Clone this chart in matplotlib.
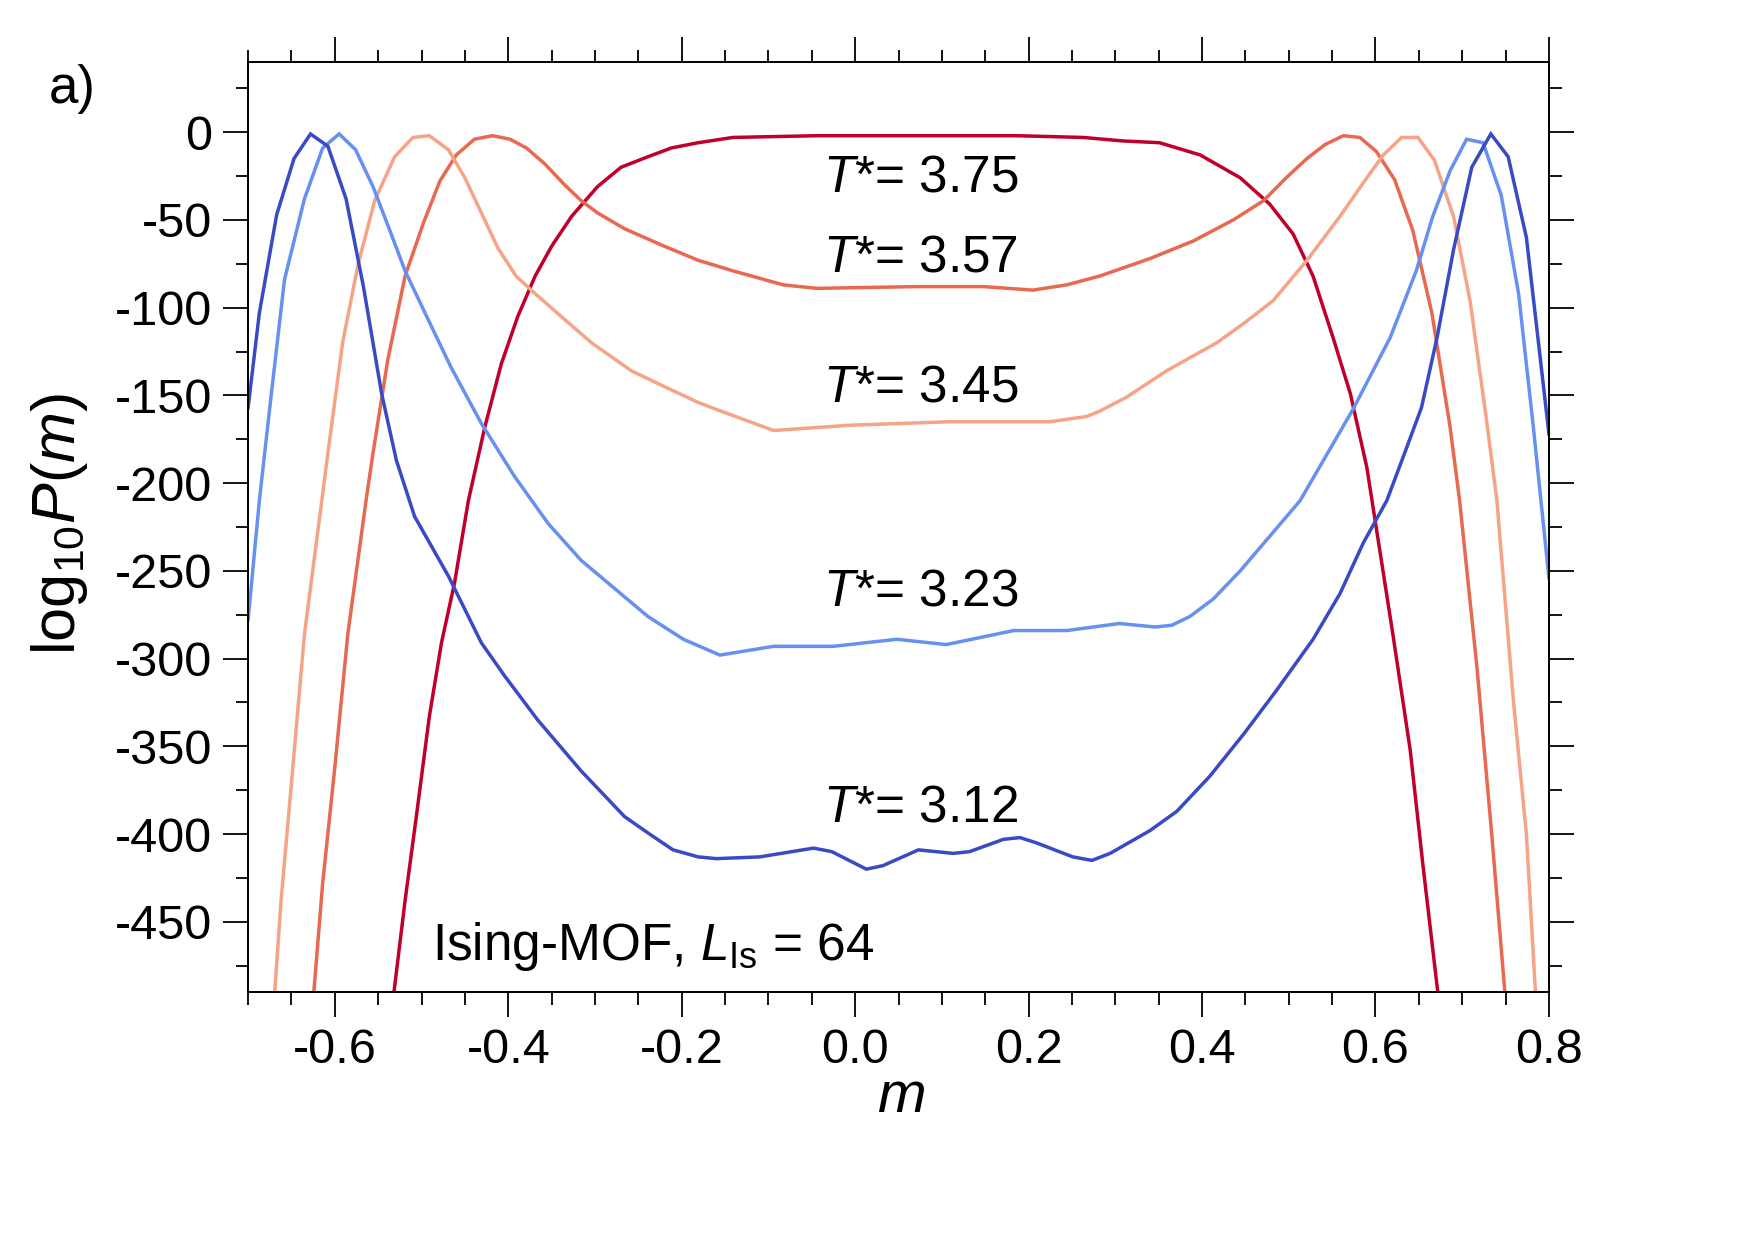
import matplotlib
matplotlib.use("Agg")
import matplotlib.pyplot as plt
from matplotlib.ticker import MultipleLocator, FuncFormatter

# log10 P(m), one curve per temperature
m_312 = [-0.700, -0.687, -0.667, -0.647, -0.628, -0.608, -0.587, -0.567, -0.546, -0.529,
         -0.508, -0.469, -0.431, -0.404, -0.366, -0.316, -0.266, -0.237, -0.210, -0.181,
         -0.160, -0.110, -0.048, -0.027, 0.013, 0.032, 0.073, 0.113, 0.132, 0.171,
         0.190, 0.209, 0.251, 0.273, 0.294, 0.340, 0.371, 0.409, 0.448, 0.486,
         0.528, 0.559, 0.586, 0.613, 0.632, 0.653, 0.671, 0.690, 0.711, 0.733,
         0.753, 0.774, 0.800]
lp_312 = [-157, -103, -47, -15, -1, -8, -38, -88, -149, -187,
          -219, -253, -291, -310, -335, -364, -390, -400, -409, -413,
          -414, -413, -408, -410, -420, -418, -409, -411, -410, -403,
          -402, -405, -413, -415, -411, -398, -387, -367, -343, -318,
          -289, -263, -234, -210, -185, -157, -117, -67, -20, -1,
          -14, -60, -172]

m_323 = [-0.700, -0.687, -0.675, -0.658, -0.635, -0.614, -0.595, -0.576, -0.556, -0.535,
         -0.519, -0.496, -0.466, -0.431, -0.393, -0.354, -0.316, -0.239, -0.198, -0.156,
         -0.094, -0.025, 0.048, 0.105, 0.183, 0.244, 0.305, 0.346, 0.365, 0.386,
         0.413, 0.444, 0.482, 0.513, 0.574, 0.617, 0.647, 0.666, 0.686, 0.705,
         0.724, 0.745, 0.765, 0.782, 0.800]
lp_323 = [-278, -210, -157, -84, -38, -9, -1, -10, -31, -58,
          -79, -103, -134, -166, -196, -223, -244, -276, -289, -298,
          -293, -293, -289, -292, -284, -284, -280, -282, -281, -276,
          -266, -250, -228, -210, -158, -117, -79, -48, -22, -4,
          -6, -36, -92, -168, -254]

m_345 = [-0.670, -0.662, -0.650, -0.635, -0.615, -0.608, -0.591, -0.573, -0.554, -0.531,
         -0.510, -0.491, -0.469, -0.450, -0.431, -0.412, -0.391, -0.369, -0.339, -0.304,
         -0.258, -0.220, -0.181, -0.160, -0.094, -0.006, 0.109, 0.225, 0.267, 0.282,
         0.313, 0.359, 0.417, 0.448, 0.482, 0.521, 0.559, 0.590, 0.609, 0.630,
         0.649, 0.668, 0.690, 0.709, 0.728, 0.740, 0.759, 0.774, 0.785]
lp_345 = [-495, -438, -371, -286, -210, -183, -120, -75, -39, -14,
          -3, -2, -10, -26, -46, -66, -82, -92, -105, -120,
          -136, -145, -154, -158, -170, -167, -165, -165, -162, -159,
          -151, -136, -120, -109, -96, -73, -48, -26, -13, -3,
          -3, -16, -48, -96, -164, -210, -324, -400, -495]

m_357 = [-0.625, -0.614, -0.600, -0.585, -0.564, -0.556, -0.539, -0.519, -0.498, -0.479,
         -0.460, -0.439, -0.418, -0.398, -0.379, -0.358, -0.335, -0.316, -0.297, -0.266,
         -0.220, -0.181, -0.141, -0.083, -0.044, 0.071, 0.148, 0.205, 0.244, 0.282,
         0.340, 0.390, 0.436, 0.471, 0.497, 0.521, 0.542, 0.563, 0.582, 0.601,
         0.622, 0.643, 0.665, 0.686, 0.697, 0.717, 0.734, 0.750]
lp_357 = [-495, -428, -362, -286, -210, -183, -130, -82, -52, -28,
          -13, -4, -2, -4, -9, -18, -30, -39, -46, -55,
          -65, -73, -79, -87, -89, -88, -88, -90, -87, -82,
          -72, -62, -50, -39, -26, -15, -7, -2, -3, -11,
          -27, -56, -103, -168, -210, -305, -400, -495]

m_375 = [-0.533, -0.519, -0.506, -0.491, -0.477, -0.462, -0.446, -0.427, -0.408, -0.389,
         -0.369, -0.350, -0.327, -0.297, -0.270, -0.239, -0.212, -0.181, -0.141, -0.044,
         0.071, 0.186, 0.263, 0.309, 0.351, 0.398, 0.444, 0.478, 0.505, 0.528,
         0.551, 0.571, 0.590, 0.596, 0.620, 0.640, 0.655, 0.673]
lp_375 = [-495, -438, -390, -333, -291, -257, -210, -168, -132, -105,
          -82, -65, -48, -31, -20, -14, -9, -6, -3, -2,
          -2, -2, -3, -5, -6, -13, -26, -41, -58, -82,
          -117, -149, -191, -210, -286, -352, -419, -495]

temps = ["3.75", "3.57", "3.45", "3.23", "3.12"]
label_y = [-34, -79.6, -153.7, -270, -393]

plt.rcParams['font.family'] = 'Liberation Sans'
plt.rcParams['mathtext.fontset'] = 'custom'
plt.rcParams['mathtext.rm'] = 'Liberation Sans'
plt.rcParams['mathtext.it'] = 'Liberation Sans:italic'
plt.rcParams['axes.unicode_minus'] = False

fig = plt.figure(figsize=(17.52, 12.40), dpi=100)
ax = fig.add_axes([0.1416, 0.2, 0.7425, 0.75])

curves = [(m_375, lp_375, "#c0002a"),
          (m_357, lp_357, "#e8694f"),
          (m_345, lp_345, "#f6a487"),
          (m_323, lp_323, "#6890f0"),
          (m_312, lp_312, "#3a4ac4")]
for m, lp, c in curves:
    ax.plot(m, lp, color=c, lw=2.5, solid_joinstyle="miter")

for t, yl in zip(temps, label_y):
    ax.text(-0.037, yl, r"$T$*= " + t, fontsize=37, ha="left", va="baseline")
ax.text(-0.488, -472, r"Ising-MOF, $L_{\mathrm{Is}}$ = 64", fontsize=37, va="baseline")

ax.set_xlim(-0.7, 0.8)
ax.set_ylim(-490, 40)
ax.xaxis.set_major_locator(MultipleLocator(0.2))
ax.xaxis.set_minor_locator(MultipleLocator(0.05))
ax.yaxis.set_major_locator(MultipleLocator(50))
ax.yaxis.set_minor_locator(MultipleLocator(25))
ax.xaxis.set_major_formatter(FuncFormatter(lambda v, p: f"{v:.1f}".replace("-0.0", "0.0")))
ax.yaxis.set_major_formatter(FuncFormatter(lambda v, p: "0" if abs(v) < 1e-9 else f"{v:.0f}"))

ax.tick_params(which="both", direction="out", top=True, right=True, width=1.3, labelsize=35, pad=8)
ax.tick_params(which="major", length=18)
ax.tick_params(which="minor", length=9)
for s in ax.spines.values():
    s.set_linewidth(1.4)

fig.text(0.514, 0.1035, r"$m$", fontsize=42, ha="center", va="baseline")
fig.text(0.034, 0.577, r"$\mathrm{log}_{10}P(m)$", fontsize=44, rotation=90, ha="center", va="center")
fig.text(0.028, 0.917, "a)", fontsize=38, va="baseline")

fig.savefig("out.png", dpi=100)
